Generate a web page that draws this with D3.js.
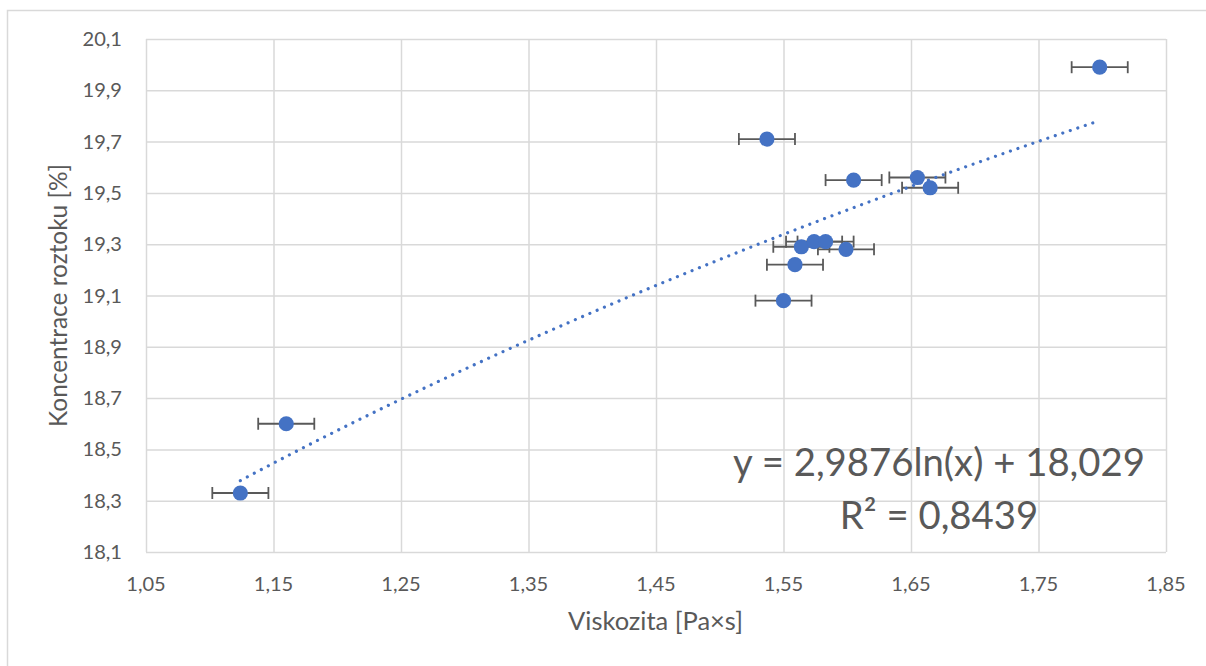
<!DOCTYPE html>
<html>
<head>
<meta charset="utf-8">
<script src="https://cdn.jsdelivr.net/npm/d3@7"></script>
<style>
  html, body { margin: 0; padding: 0; background: #fff; }
  svg { display: block; }
  text { font-family: Lato, "Open Sans", sans-serif; fill: #595959; }
</style>
</head>
<body>
<svg id="chart" width="1206" height="666"></svg>
<script>
// ---- data ----
const viskozita   = [1.124, 1.160, 1.537, 1.605, 1.655, 1.665, 1.564, 1.574, 1.583, 1.599, 1.559, 1.550, 1.798];
const koncentrace = [18.33, 18.60, 19.71, 19.55, 19.56, 19.52, 19.29, 19.31, 19.31, 19.28, 19.22, 19.08, 19.99];
const xError = [0.022, 0.022, 0.022, 0.022, 0.022, 0.022, 0.022, 0.022, 0.022, 0.022, 0.022, 0.022, 0.022];
const xTicks = [1.05, 1.15, 1.25, 1.35, 1.45, 1.55, 1.65, 1.75, 1.85];
const yTicks = [18.1, 18.3, 18.5, 18.7, 18.9, 19.1, 19.3, 19.5, 19.7, 19.9, 20.1];
const trendCoef = [2.9876, 18.029]; // y = a*ln(x) + b
const equationLines = ["y = 2,9876ln(x) + 18,029", "R² = 0,8439"];
const xTitle = "Viskozita [Pa×s]";
const yTitle = "Koncentrace roztoku [%]";

// ---- layout ----
const svg = d3.select("#chart");
const L = 146, R = 1166, T = 39, B = 552;
const x = d3.scaleLinear().domain([1.05, 1.85]).range([L, R]);
const y = d3.scaleLinear().domain([18.1, 20.1]).range([B, T]);
const fmt = v => d3.format(".2f")(v).replace(".", ",");
const fmtY = v => d3.format(".1f")(v).replace(".", ",");
const blue = "#4472C4", grid = "#D9D9D9";

function fitSize(node, target) {
  const fs = parseFloat(d3.select(node).attr("font-size"));
  const w = node.getComputedTextLength();
  return w > 0 ? fs * target / w : fs;
}

// outer border
svg.append("rect").attr("x", 7.5).attr("y", 10.5).attr("width", 1300).attr("height", 800)
  .attr("fill", "none").attr("stroke", grid).attr("stroke-width", 1.5);

// gridlines via axes
svg.append("g").attr("transform", `translate(0,${B})`)
  .call(d3.axisBottom(x).tickValues(xTicks).tickSize(-(B - T)).tickFormat(""))
  .call(g => g.select(".domain").remove())
  .call(g => g.selectAll("line").attr("stroke", grid).attr("stroke-width", 1.5));
svg.append("g").attr("transform", `translate(${L},0)`)
  .call(d3.axisLeft(y).tickValues(yTicks).tickSize(-(R - L)).tickFormat(""))
  .call(g => g.select(".domain").remove())
  .call(g => g.selectAll("line").attr("stroke", grid).attr("stroke-width", 1.5));

// tick labels
const xl = svg.append("g").selectAll("text").data(xTicks).join("text")
  .attr("x", d => x(d)).attr("y", 591).attr("text-anchor", "middle")
  .attr("font-size", 19).text(fmt);
const xs = fitSize(xl.node(), 39.5);
xl.attr("font-size", xs);
const yl = svg.append("g").selectAll("text").data(yTicks).join("text")
  .attr("x", 122).attr("y", d => y(d)).attr("dy", "0.35em").attr("text-anchor", "end")
  .attr("font-size", xs).text(fmtY);

// axis titles
const xt = svg.append("text").attr("x", 655.5).attr("y", 630).attr("text-anchor", "middle")
  .attr("font-size", 22).text(xTitle);
xt.attr("font-size", fitSize(xt.node(), 175));
const yt = svg.append("text").attr("transform", `translate(67,${(T + B) / 2}) rotate(-90)`)
  .attr("text-anchor", "middle").attr("font-size", 22).text(yTitle);
yt.attr("font-size", fitSize(yt.node(), 263));

// error bars
const eb = svg.append("g").attr("stroke", "#595959").attr("stroke-width", 1.8).attr("fill", "none");
viskozita.forEach((v, i) => {
  const x0 = x(v - xError[i]), x1 = x(v + xError[i]), yy = y(koncentrace[i]);
  eb.append("line").attr("x1", x0).attr("x2", x1).attr("y1", yy).attr("y2", yy);
  eb.append("line").attr("x1", x0).attr("x2", x0).attr("y1", yy - 6).attr("y2", yy + 6);
  eb.append("line").attr("x1", x1).attr("x2", x1).attr("y1", yy - 6).attr("y2", yy + 6);
});

// markers
svg.append("g").selectAll("circle").data(viskozita).join("circle")
  .attr("cx", d => x(d)).attr("cy", (d, i) => y(koncentrace[i])).attr("r", 7.6)
  .attr("fill", blue);

// trendline
const xmin = d3.min(viskozita), xmax = d3.max(viskozita);
const trendPts = d3.range(0, 101).map(k => {
  const xv = xmin + (xmax - xmin) * k / 100;
  return [xv, trendCoef[0] * Math.log(xv) + trendCoef[1]];
});
svg.append("path").datum(trendPts)
  .attr("d", d3.line().x(d => x(d[0])).y(d => y(d[1])))
  .attr("fill", "none").attr("stroke", blue).attr("stroke-width", 3.2)
  .attr("stroke-linecap", "round").attr("stroke-dasharray", "0.01 7.9");

// equation
const eq = svg.append("g").selectAll("text").data(equationLines).join("text")
  .attr("x", 939).attr("y", (d, i) => 476 + i * 53).attr("text-anchor", "middle")
  .attr("font-size", 36).text(d => d);
const es = fitSize(eq.node(), 412);
eq.attr("font-size", es);
</script>
</body>
</html>
